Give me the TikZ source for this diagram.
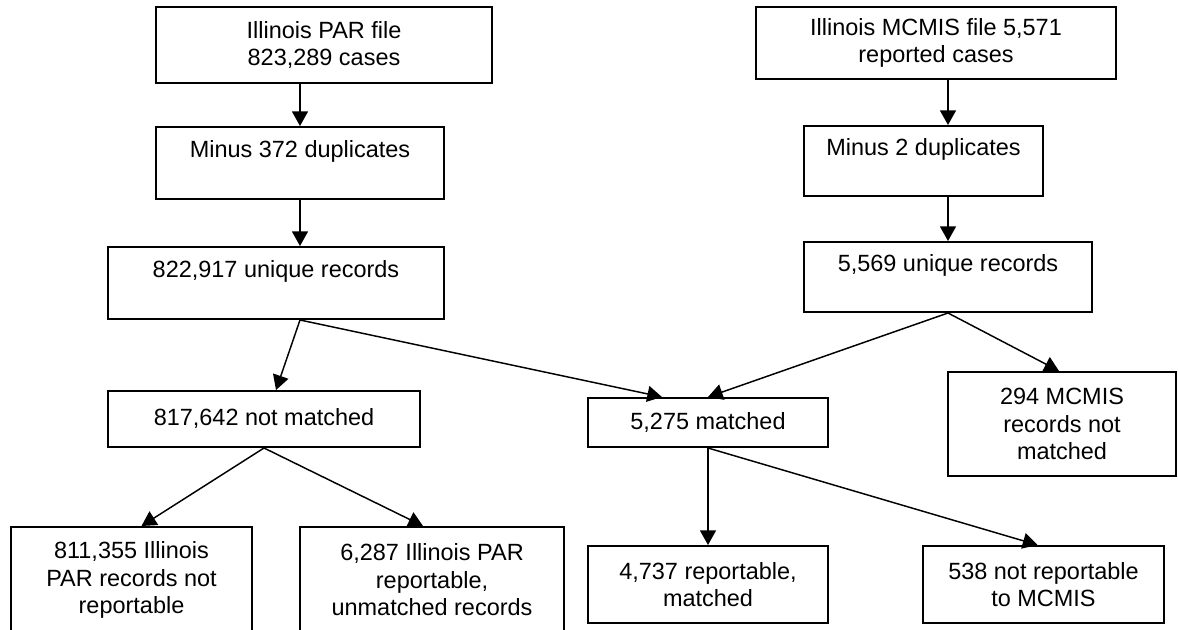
\documentclass[tikz,border=0pt]{standalone}
\usepackage{fontspec}
\setmainfont{Liberation Sans}
\usetikzlibrary{arrows.meta,calc}

\begin{document}
\begin{tikzpicture}[x=0.75pt, y=-0.75pt,
    box/.style={draw, line width=1.5pt, align=center, inner sep=0pt,
        font=\fontsize{17.6}{20.6}\selectfont},
    arr/.style={-{Triangle[length=11pt,width=12pt]}, line width=1.1pt}]
    \useasboundingbox (0,0) rectangle (1178,630);
    \clip (0,0) rectangle (1178,630);

    \node[box, minimum width=252pt, minimum height=57pt] (par) at (324,45) {Illinois PAR file\\823,289 cases};
    \node[box, minimum width=216pt, minimum height=54pt] (pardup) at (300,163) {Minus 372 duplicates\\~};
    \node[box, minimum width=252pt, minimum height=54pt] (paruniq) at (276,283) {822,917 unique records\\~};

    \node[box, minimum width=270pt, minimum height=54pt] (mcmis) at (936,43) {Illinois MCMIS file 5,571\\reported cases};
    \node[box, minimum width=179.25pt, minimum height=52.5pt] (mcmisdup) at (923.5,161) {Minus 2 duplicates\\~};
    \node[box, minimum width=216pt, minimum height=52.5pt] (mcmisuniq) at (948,277) {5,569 unique records\\~};

    \node[box, minimum width=234pt, minimum height=42pt] (notmatched) at (264,419) {817,642 not matched};
    \node[box, minimum width=180pt, minimum height=36.75pt] (matched) at (708,422.5) {5,275 matched};
    \node[box, minimum width=171pt, minimum height=78pt] (mcmisonly) at (1062,424) {294 MCMIS\\records not\\matched};

    \node[box, minimum width=180.75pt, minimum height=79.5pt] (notrep) at (131.5,580) {811,355 Illinois\\PAR records not\\reportable};
    \node[box, minimum width=198pt, minimum height=79.5pt] (repunm) at (432,580) {6,287 Illinois PAR\\reportable,\\unmatched records};
    \node[box, minimum width=180pt, minimum height=57.75pt] (repmat) at (708,584.5) {4,737 reportable,\\matched};
    \node[box, minimum width=180.75pt, minimum height=57.75pt] (notmcmis) at (1043.5,584.5) {538 not reportable\\to MCMIS};

    \coordinate (parfork) at (pardup.south |- paruniq.south);
    \draw[arr] (par.south -| pardup.north) -- (pardup.north);
    \draw[arr] (pardup.south) -- (pardup.south |- paruniq.north);
    \draw[arr] (parfork) -- ($(notmatched.north)+(12,0)$);
    \draw[arr] (parfork) -- ($(matched.north)+(-46,0)$);

    \draw[arr] (mcmis.south -| mcmisuniq.north) -- (mcmisuniq.north |- mcmisdup.north);
    \draw[arr] (mcmisdup.south -| mcmisuniq.north) -- (mcmisuniq.north);
    \draw[arr] (mcmisuniq.south) -- (matched.north);
    \draw[arr] (mcmisuniq.south) -- ($(mcmisonly.north)+(-3,0)$);

    \draw[arr] (notmatched.south) -- ($(notrep.north)+(10,0)$);
    \draw[arr] (notmatched.south) -- ($(repunm.north)+(-9,0)$);
    \draw[arr] (matched.south) -- (repmat.north);
    \draw[arr] (matched.south) -- ($(notmcmis.north)+(-6,0)$);
\end{tikzpicture}
\end{document}
